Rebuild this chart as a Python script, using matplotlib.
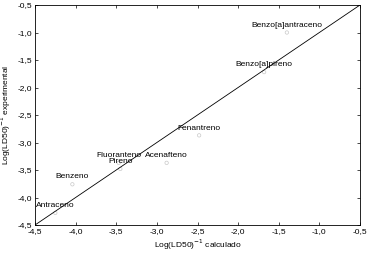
import numpy as np
import matplotlib.pyplot as plt
from matplotlib.ticker import FuncFormatter

plt.rcParams['font.family'] = ['Liberation Sans', 'DejaVu Sans']

names = ['Antraceno', 'Benzeno', 'Fluoranteno', 'Pireno', 'Acenafteno',
         'Fenantreno', 'Benzo[a]pireno', 'Benzo[a]antraceno']
calc = np.array([-4.25, -4.04, -3.47, -3.45, -2.88, -2.48, -1.68, -1.40])
exper = np.array([-4.28, -3.76, -3.37, -3.48, -3.37, -2.87, -1.72, -1.00])
ticks = [-4.5, -4.0, -3.5, -3.0, -2.5, -2.0, -1.5, -1.0, -0.5]

fig = plt.figure(figsize=(3.69, 2.54), dpi=100)
ax = fig.add_axes([35 / 369, 29 / 254, 325 / 369, 220 / 254])

ax.plot([-4.5, -0.5], [-4.5, -0.5], color='black', lw=0.6)
ax.scatter(calc, exper, s=6, facecolors='none', edgecolors='#c8c8c8', lw=0.5)
for n, x, y in zip(names, calc, exper):
    ax.text(x, y + 0.07, n, fontsize=6, ha='center', va='bottom')

ax.set_xlim(-4.5, -0.5)
ax.set_ylim(-4.5, -0.5)
ax.set_xticks(ticks)
ax.set_yticks(ticks)
fmt = FuncFormatter(lambda v, p: ('%.1f' % v).replace('.', ','))
ax.xaxis.set_major_formatter(fmt)
ax.yaxis.set_major_formatter(fmt)
ax.tick_params(direction='in', length=2.5, width=0.5, labelsize=6,
               top=True, right=True, pad=2)
for s in ax.spines.values():
    s.set_linewidth(0.6)

ax.set_xlabel('Log(LD50)$^{-1}$ calculado', fontsize=6, labelpad=2)
ax.set_ylabel('Log(LD50)$^{-1}$ experimental', fontsize=6, labelpad=3)

fig.savefig('out.png', dpi=100)
